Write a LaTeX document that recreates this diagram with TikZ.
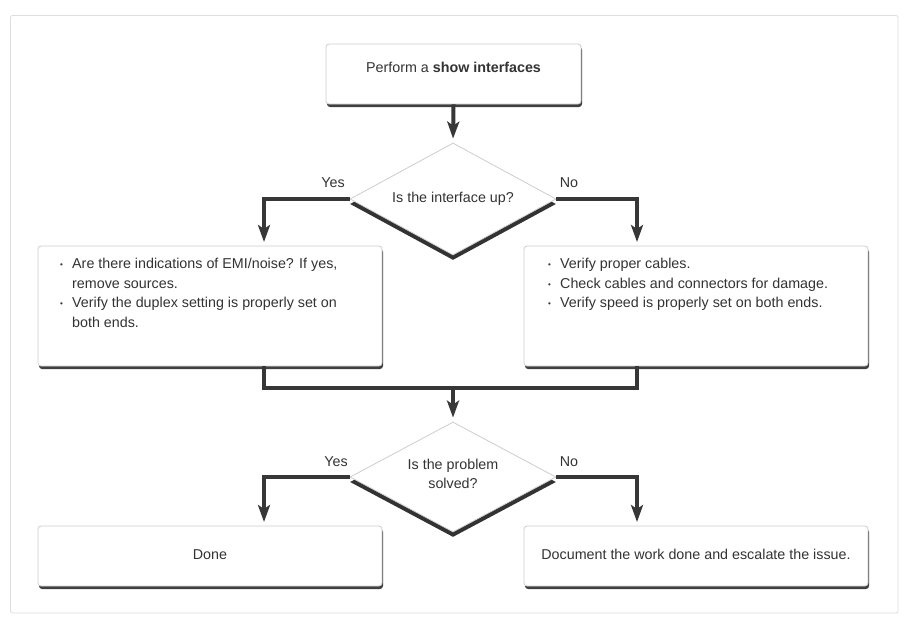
\documentclass[tikz,border=0pt]{standalone}
\usepackage{fontspec}
\setmainfont{Liberation Sans}
\usetikzlibrary{arrows.meta,shapes.geometric,shadows}
\definecolor{txt1}{RGB}{51,51,51}
\definecolor{line1}{RGB}{55,55,55}
\definecolor{edge1}{RGB}{205,205,205}
\definecolor{frame1}{RGB}{222,222,222}
\newcommand{\bul}{\makebox[12pt][l]{\raisebox{1pt}{\fontsize{8}{8}\selectfont\textbullet}}}

\begin{document}
\begin{tikzpicture}[x=1pt,y=-1pt,
  every node/.style={font=\fontsize{14.3}{19.5}\selectfont,text=txt1},
  stepbox/.style={draw=edge1,fill=white,line width=0.8pt,rounded corners=3pt,
    drop shadow={shadow xshift=1pt,shadow yshift=-3pt,fill=black!75,opacity=1}},
  askbox/.style={diamond,draw=edge1,fill=white,line width=0.8pt,inner sep=0pt,
    aspect=1.85,minimum width=206pt,
    drop shadow={shadow xshift=0pt,shadow yshift=-5pt,fill=black!80,opacity=1}},
  flow/.style={line1,line width=4pt,-{Stealth[length=17pt,width=12pt,inset=4pt]},shorten >=4pt},
  joinline/.style={line1,line width=4pt}]
  \def\bw{344}
  \def\bh{120}
  % background and frame
  \useasboundingbox (0,0) rectangle (912,622);
  \fill[white] (0,0) rectangle (912,622);
  \draw[frame1,line width=0.8pt,rounded corners=2pt] (10.5,15.5) rectangle (898,613);

  % boxes
  \node[stepbox,minimum width=255pt,minimum height=60pt,text height=10pt,text depth=14pt]
    (show) at (453.5,74) {Perform a \textbf{show interfaces}};
  \node[askbox,minimum height=112pt] (q1) at (453,199) {Is the interface up?};
  \node[stepbox,minimum width=\bw pt,minimum height=\bh pt] (emi) at (210,306) {};
  \node[stepbox,minimum width=\bw pt,minimum height=\bh pt] (cab) at (696,306) {};
  \node[anchor=north west,inner sep=0pt,align=left] (emitext) at (60,258) {%
    \bul Are there indications of EMI/noise? If yes,\\
    \hspace*{12pt}remove sources.\\
    \bul Verify the duplex setting is properly set on\\
    \hspace*{12pt}both ends.};
  \node[anchor=north west,inner sep=0pt,align=left] (cabtext) at (548,258) {%
    \bul Verify proper cables.\\
    \bul Check cables and connectors for damage.\\
    \bul Verify speed is properly set on both ends.};
  \node[askbox,minimum height=110pt] (q2) at (453,477) {};
  \node[align=center] (q2text) at (453,474) {Is the problem\\solved?};
  \node[stepbox,minimum width=\bw pt,minimum height=60pt,text height=10pt,text depth=4pt]
    (done) at (210,556) {Done};
  \node[stepbox,minimum width=\bw pt,minimum height=60pt,text height=10pt,text depth=4pt]
    (doc) at (696,556) {Document the work done and escalate the issue.};

  % branch labels
  \node (yes1) at (333,183) {Yes};
  \node (no1) at (569,183) {No};
  \node (yes2) at (336,462) {Yes};
  \node (no2) at (569,462) {No};

  % end points
  \coordinate (emitop) at (264,246);
  \coordinate (cabtop) at (637,246);
  \coordinate (emibot) at (264,366);
  \coordinate (cabbot) at (637,366);
  \coordinate (mrg) at (453,388);
  \coordinate (donetop) at (264,526);
  \coordinate (doctop) at (637,526);

  % connectors
  \draw[flow] (show.south) -- (q1.north);
  \draw[flow] (q1.west) -| (emitop);
  \draw[flow] (q1.east) -| (cabtop);
  \draw[joinline] (emibot) |- (mrg) -| (cabbot);
  \draw[flow] (mrg) -- (q2.north);
  \draw[flow] (q2.west) -| (donetop);
  \draw[flow] (q2.east) -| (doctop);
\end{tikzpicture}
\end{document}
